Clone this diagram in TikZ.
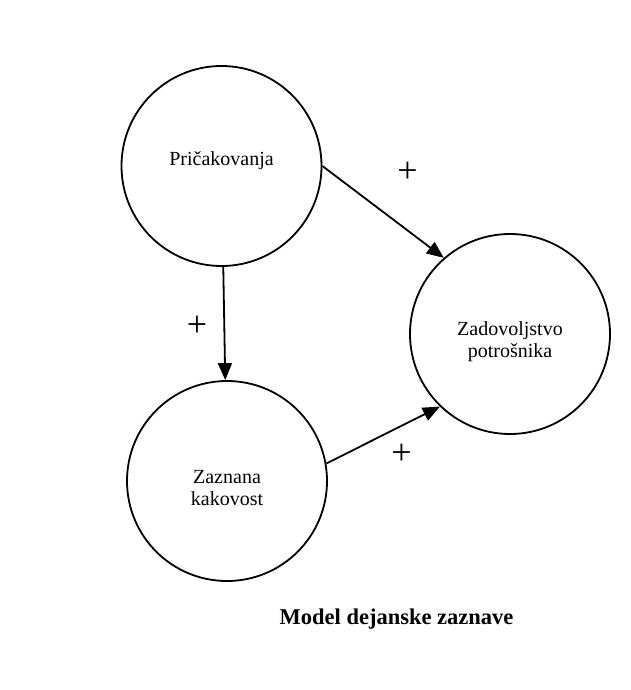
\documentclass[tikz,border=0pt]{standalone}
\usepackage{fontspec}
\setmainfont{Liberation Serif}
\usetikzlibrary{arrows.meta}
\begin{document}
\begin{tikzpicture}[x=1pt,y=-1pt,
  construct/.style={draw, circle, line width=1.8pt, minimum size=200pt, inner sep=0pt},
  lbl/.style={font=\fontsize{20}{22}\selectfont, align=center, inner sep=0pt},
  sign/.style={font=\fontsize{36}{36}\selectfont, inner sep=0pt},
  arr/.style={line width=1.8pt, -{Triangle[length=17pt,width=14pt]}}]
  \useasboundingbox[fill=white] (0,0) rectangle (631,690);
  % three constructs of the model
  \node[construct] (pri) at (221.5,166) {};
  \node[construct] (zaz) at (227,481) {};
  \node[construct] (zad) at (510,334) {};
  \node[lbl] (tpri) at (221.5,161) {Pričakovanja};
  \node[lbl] (tzaz) at (227,488) {Zaznana\\kakovost};
  \node[lbl] (tzad) at (510,342) {Zadovoljstvo\\potrošnika};
  % causal links
  \draw[arr] (pri.east) -- (zad.131);
  \draw[arr] (pri.-89) -- (zaz.91);
  \draw[arr] (zaz.10) -- (zad.226);
  % signs of the links
  \node[sign] (s1) at (407.5,172) {+};
  \node[sign] (s2) at (197,326) {+};
  \node[sign] (s3) at (401.5,454) {+};
  % caption
  \node[font=\fontsize{22.5}{24}\selectfont\bfseries, inner sep=0pt] (cap) at (396.5,619) {Model dejanske zaznave};
\end{tikzpicture}
\end{document}
